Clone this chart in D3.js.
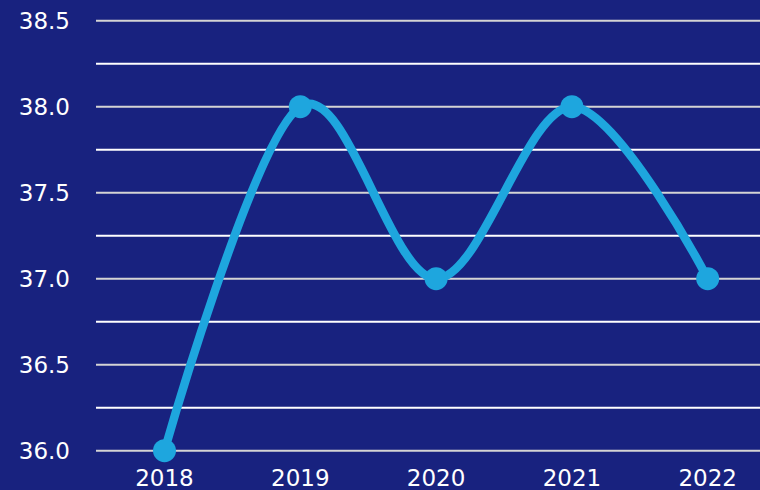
<!DOCTYPE html>
<html>
<head>
<meta charset="utf-8">
<script src="https://cdn.jsdelivr.net/npm/d3@7"></script>
<style>
  body { margin: 0; background: #18227f; }
  svg { display: block; font-family: "DejaVu Sans", sans-serif; }
</style>
</head>
<body>
<svg width="760" height="490"></svg>
<script>
// data
var years = ["2018", "2019", "2020", "2021", "2022"];
var values = [36.0, 38.0, 37.0, 38.0, 37.0];
var yTicks = [36.0, 36.5, 37.0, 37.5, 38.0, 38.5];
var yMinor = [36.25, 36.75, 37.25, 37.75, 38.25];

var svg = d3.select("svg"),
  width = +svg.attr("width"),
  height = +svg.attr("height");

svg.append("rect")
  .attr("width", width)
  .attr("height", height)
  .attr("fill", "#18227f");

var left = 96, step = 135.8;

var x = d3.scalePoint()
  .domain(years)
  .range([left + step / 2 + 0.6, left + step * 4.5 + 0.6]);

var y = d3.scaleLinear()
  .domain([36, 38.5])
  .range([450.7, 20.7]);

// grid lines, light grey at labels and white in between
svg.selectAll(".major")
  .data(yTicks)
  .enter().append("line")
  .attr("x1", left)
  .attr("x2", width)
  .attr("y1", function (d) { return y(d); })
  .attr("y2", function (d) { return y(d); })
  .attr("stroke", "#d4d4d4")
  .attr("stroke-width", 2);

svg.selectAll(".minor")
  .data(yMinor)
  .enter().append("line")
  .attr("x1", left)
  .attr("x2", width)
  .attr("y1", function (d) { return y(d); })
  .attr("y2", function (d) { return y(d); })
  .attr("stroke", "#ffffff")
  .attr("stroke-width", 2);

// y labels
svg.selectAll(".ylab")
  .data(yTicks)
  .enter().append("text")
  .attr("x", 70)
  .attr("y", function (d) { return y(d); })
  .attr("dy", "0.36em")
  .attr("text-anchor", "end")
  .attr("fill", "#ffffff")
  .attr("font-size", 23)
  .text(function (d) { return d3.format(".1f")(d); });

// x labels
svg.selectAll(".xlab")
  .data(years)
  .enter().append("text")
  .attr("x", function (d) { return x(d); })
  .attr("y", 486)
  .attr("text-anchor", "middle")
  .attr("fill", "#ffffff")
  .attr("font-size", 23)
  .text(function (d) { return d; });

var pts = years.map(function (d, i) { return { year: d, value: values[i] }; });

var line = d3.line()
  .x(function (d) { return x(d.year); })
  .y(function (d) { return y(d.value); })
  .curve(d3.curveCardinal.tension(0));

svg.append("path")
  .datum(pts)
  .attr("d", line)
  .attr("fill", "none")
  .attr("stroke", "#1ea6de")
  .attr("stroke-width", 8.5);

svg.selectAll(".dot")
  .data(pts)
  .enter().append("circle")
  .attr("cx", function (d) { return x(d.year); })
  .attr("cy", function (d) { return y(d.value); })
  .attr("r", 11.5)
  .attr("fill", "#1ea6de");
</script>
</body>
</html>
